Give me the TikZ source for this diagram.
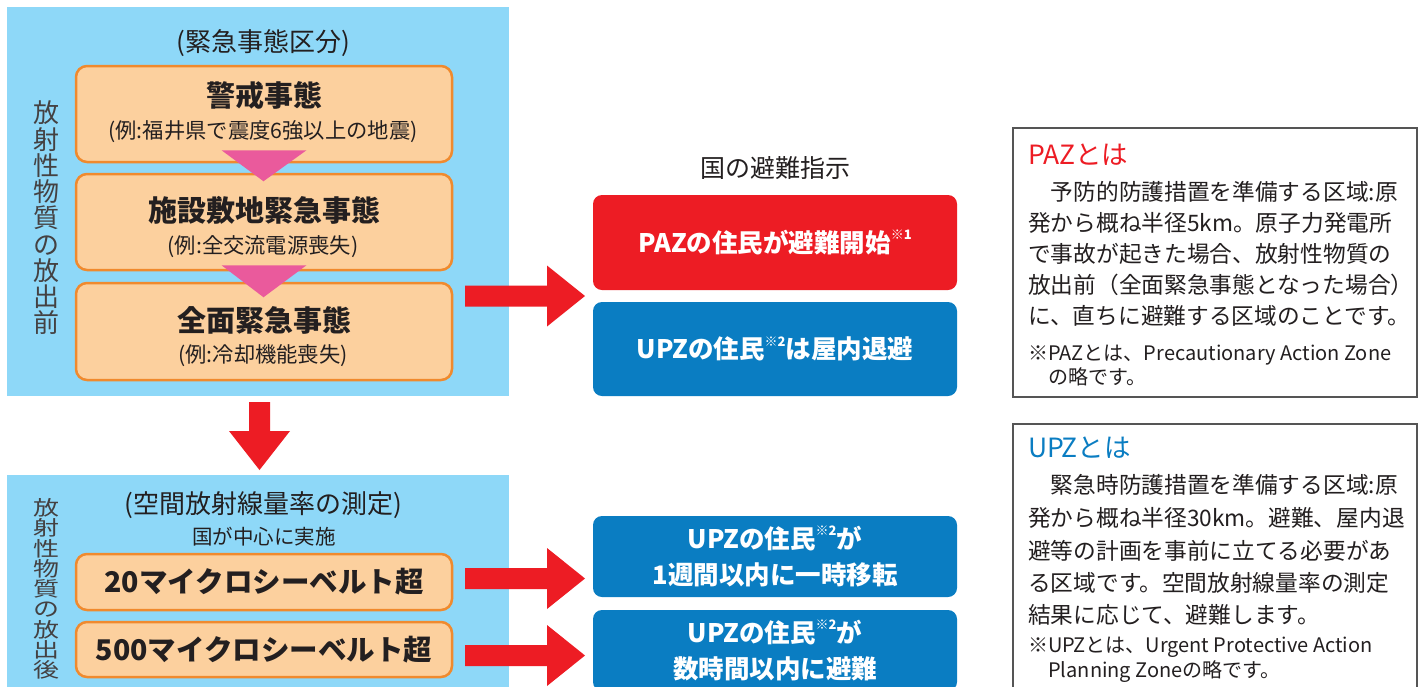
\documentclass[tikz,border=0pt]{standalone}
\usepackage{fontspec}
\setmainfont{Noto Sans CJK JP}
\usetikzlibrary{calc}
\definecolor{skyc}{HTML}{8ED8F8}
\definecolor{orfill}{HTML}{FCD09E}
\definecolor{ordraw}{HTML}{F08A2E}
\definecolor{pinkc}{HTML}{EA5A9C}
\definecolor{redc}{HTML}{ED1C24}
\definecolor{bluec}{HTML}{0A7DC2}
\definecolor{txt}{HTML}{231F20}
\definecolor{framec}{HTML}{555555}
\newcommand\mynote[1]{\raisebox{0.5em}{\fontsize{13}{13}\selectfont #1}}
\newcommand\sqz[1]{\scalebox{1}[0.78]{#1}}
\newcommand\fs[1]{\fontsize{#1}{#1}\selectfont}
\newcommand\rightblock[2]{\fill[redc] let \p1=(#1), \p2=(#2) in
  (\x1,\y1+10.5pt) -- (\x2-38pt,\y1+10.5pt) -- (\x2-38pt,\y1+30.5pt) -- (\x2,\y1)
  -- (\x2-38pt,\y1-30.5pt) -- (\x2-38pt,\y1-10.5pt) -- (\x1,\y1-10.5pt) -- cycle;}
\begin{document}
\begin{tikzpicture}[x=1pt,y=-1pt,
  panel/.style={fill=skyc,draw=none,inner sep=0pt,anchor=north west,minimum width=502pt},
  obox/.style={draw=ordraw,line width=2.5pt,fill=orfill,rounded corners=11pt,minimum width=376pt,inner sep=0pt},
  rbox/.style={fill=#1,draw=none,rounded corners=9pt,minimum width=364pt,inner sep=0pt,text=white,align=center,
    font=\bfseries\fontsize{25.5}{36}\selectfont},
  frm/.style={draw=framec,line width=1.5pt,fill=white,minimum width=404pt,inner sep=0pt,anchor=north west},
  tx/.style={inner sep=0pt,text=txt},
  ln/.style={inner sep=0pt,text=txt,anchor=west,font=\fs{22.7}},
  nl/.style={inner sep=0pt,text=txt,anchor=west,font=\fs{20}},
]
\useasboundingbox (0,0) rectangle (1422,686);
\clip (0,0) rectangle (1422,686);
\fill[white] (0,0) rectangle (1422,686);

% panels
\node[panel,minimum height=389pt] (upper) at (7,7) {};
\node[panel,minimum height=240pt] (lower) at (7,475) {};

% upper panel contents
\node[tx,font=\fs{26}] (t1) at (263,43) {(緊急事態区分)};
\node[tx,align=center,font=\fontsize{26}{26.25}\selectfont,text=txt!85] (v1) at (47,218)
  {放\\射\\性\\物\\質\\の\\放\\出\\前};
\node[obox,minimum height=96pt] (b1) at (264,114) {};
\node[obox,minimum height=96pt] (b2) at (264,222) {};
\node[obox,minimum height=97pt] (b3) at (264,331.5) {};
\node[tx,font=\bfseries\fs{29}] (b1t) at (264,95) {警戒事態};
\node[tx,font=\fs{21.3}] (b1s) at (263,132) {(例:福井県で震度6強以上の地震)};
\node[tx,font=\bfseries\fs{29}] (b2t) at (264,210) {施設敷地緊急事態};
\node[tx,font=\fs{21.3}] (b2s) at (263,247) {(例:全交流電源喪失)};
\node[tx,font=\bfseries\fs{29}] (b3t) at (264,320) {全面緊急事態};
\node[tx,font=\fs{21.3}] (b3s) at (263,356) {(例:冷却機能喪失)};
\fill[pinkc] ($(b1.south)+(-42.5,-13)$) -- ($(b1.south)+(42.5,-13)$) -- ($(b1.south)+(-0.5,18)$) -- cycle;
\fill[pinkc] ($(b2.south)+(-42.5,-6)$) -- ($(b2.south)+(42.5,-6)$) -- ($(b2.south)+(-0.5,26)$) -- cycle;

% down arrow
\coordinate (dA) at (259.5,402);
\coordinate (dT) at (259.5,470);
\fill[redc] ($(dA)+(-10.5,0)$) -- ($(dA)+(10.5,0)$) -- ($(dA)+(10.5,29)$) -- ($(dA)+(30.5,29)$) -- (dT)
  -- ($(dA)+(-30.5,29)$) -- ($(dA)+(-10.5,29)$) -- cycle;

% lower panel contents
\node[tx,font=\fs{26}] (t2) at (263,505) {(空間放射線量率の測定)};
\node[tx,font=\fs{20.5}] (t3) at (264,537) {国が中心に実施};
\node[tx,align=center,font=\fontsize{26}{20.25}\selectfont,text=txt!85] (v2) at (47,589)
  {\sqz{放}\\\sqz{射}\\\sqz{性}\\\sqz{物}\\\sqz{質}\\\sqz{の}\\\sqz{放}\\\sqz{出}\\\sqz{後}};
\node[obox,minimum height=56pt,font=\bfseries\fs{28.5},text=txt] (m1) at (264,582) {20マイクロシーベルト超};
\node[obox,minimum height=55pt,font=\bfseries\fs{28.5},text=txt] (m2) at (264,649.5) {500マイクロシーベルト超};

% right side
\node[tx,font=\fs{25}] (t4) at (775,168) {国の避難指示};
\node[rbox=redc,minimum height=95pt] (r1) at (775,242.5) {PAZの住民が避難開始\mynote{※1}};
\node[rbox=bluec,minimum height=94pt] (r2) at (775,349) {UPZの住民\mynote{※2}は屋内退避};
\node[rbox=bluec,minimum height=81pt] (r3) at (775,556.5) {UPZの住民\mynote{※2}が\\1週間以内に一時移転};
\node[rbox=bluec,minimum height=81pt] (r4) at (775,650.5) {UPZの住民\mynote{※2}が\\数時間以内に避難};

% arrows
\coordinate (a1s) at (465,296);   \coordinate (a1t) at (585,296);
\coordinate (a2s) at (465,578.5); \coordinate (a2t) at (585,578.5);
\coordinate (a3s) at (465,655.5); \coordinate (a3t) at (585,655.5);
\rightblock{a1s}{a1t}
\rightblock{a2s}{a2t}
\rightblock{a3s}{a3t}

% PAZ frame
\node[frm,minimum height=269pt] (pf) at (1012,127) {};
\node[inner sep=0pt,anchor=west,text=redc,font=\fs{26.5}] (pt) at (1028,155) {PAZとは};
\node[ln] (p1) at (1028,192) {　予防的防護措置を準備する区域:原};
\node[ln] (p2) at (1028,223) {発から概ね半径5km。原子力発電所};
\node[ln] (p3) at (1028,254) {で事故が起きた場合、放射性物質の};
\node[ln] (p4) at (1028,285) {放出前（全面緊急事態となった場合）};
\node[ln] (p5) at (1028,316) {に、直ちに避難する区域のことです。};
\node[nl] (p6) at (1028,355) {※PAZとは、Precautionary Action Zone};
\node[nl] (p7) at (1048,377) {の略です。};

% UPZ frame
\node[frm,minimum height=300pt] (uf) at (1012,423) {};
\node[inner sep=0pt,anchor=west,text=bluec,font=\fs{26.5}] (ut) at (1028,448) {UPZとは};
\node[ln] (u1) at (1028,485) {　緊急時防護措置を準備する区域:原};
\node[ln] (u2) at (1028,518) {発から概ね半径30km。避難、屋内退};
\node[ln] (u3) at (1028,551) {避等の計画を事前に立てる必要があ};
\node[ln] (u4) at (1028,583) {る区域です。空間放射線量率の測定};
\node[ln] (u5) at (1028,615) {結果に応じて、避難します。};
\node[nl] (u6) at (1028,647) {※UPZとは、Urgent Protective Action};
\node[nl] (u7) at (1048,672) {Planning Zoneの略です。};
\end{tikzpicture}
\end{document}
